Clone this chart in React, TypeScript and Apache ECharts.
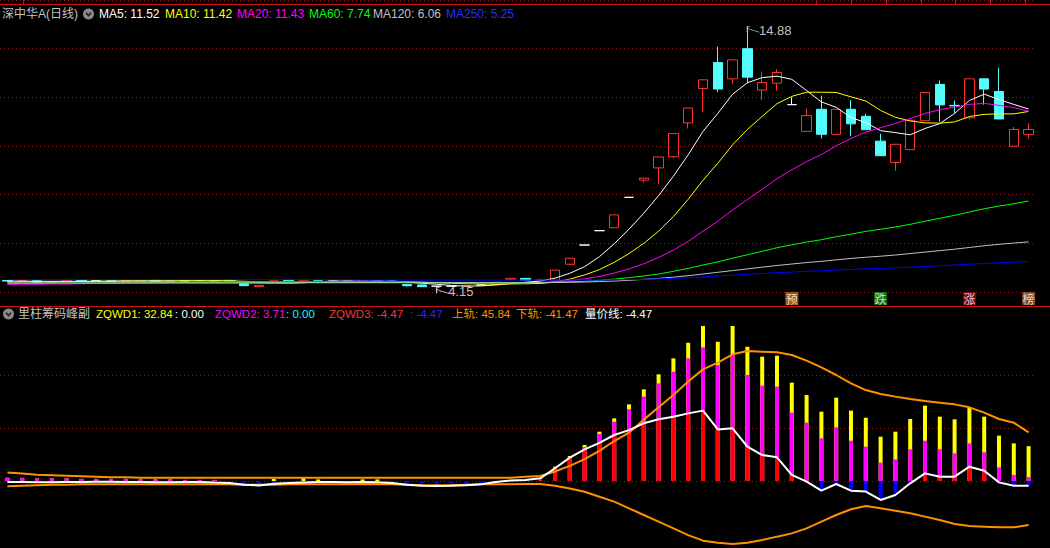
import React, { useEffect, useRef } from "react";
import * as echarts from "echarts";

// ---------- main panel (price) ----------
const opens = [4.47,4.45,4.46,4.40,4.42,4.49,4.47,4.46,4.44,4.46, 4.49,4.45,4.46,4.47,4.47,4.49,4.34,4.22,4.41,4.49, 4.41,4.46,4.45,4.45,4.44,4.46,4.46,4.31,4.29,4.24, 4.24,4.24,4.29,4.30,4.52,4.56,4.47,4.49,5.14,5.93, 6.52,6.64,7.89,8.60,9.10,9.56,10.95,12.36,13.43,12.76, 14.00,12.30,12.58,11.70,10.60,11.51,10.48,11.51,11.22,10.20, 9.32,9.85,11.04,12.53,11.67,11.16,12.76,12.24,9.99,10.48];
const closes = [4.45,4.46,4.40,4.42,4.46,4.45,4.47,4.44,4.46,4.48, 4.45,4.46,4.46,4.47,4.45,4.44,4.26,4.27,4.46,4.44, 4.46,4.45,4.45,4.44,4.46,4.45,4.41,4.26,4.22,4.24, 4.24,4.26,4.29,4.40,4.56,4.49,4.50,4.90,5.39,5.93, 6.52,7.17,7.89,8.68,9.55,10.51,11.56,12.72,12.34,13.54, 12.83,12.61,13.02,11.70,11.25,10.48,11.51,10.91,10.67,9.60, 10.07,11.06,12.20,11.69,11.65,12.76,12.34,11.11,10.68,10.68];
const lows = [4.43,4.44,4.40,4.39,4.41,4.44,4.44,4.43,4.43,4.45, 4.44,4.44,4.44,4.45,4.44,4.43,4.25,4.21,4.40,4.43, 4.40,4.44,4.44,4.43,4.43,4.44,4.40,4.22,4.21,4.15, 4.24,4.23,4.29,4.29,4.51,4.48,4.45,4.48,5.13,5.93, 6.52,6.64,7.89,8.50,8.45,9.50,10.72,11.40,12.22,12.54, 12.58,11.89,12.27,11.70,10.60,10.31,10.48,10.40,10.67,9.60, 8.98,9.82,11.04,11.00,11.36,11.09,11.70,11.11,9.99,10.31];
const highs = [4.48,4.48,4.50,4.44,4.50,4.50,4.50,4.47,4.47,4.50, 4.50,4.47,4.49,4.50,4.48,4.50,4.35,4.28,4.47,4.50, 4.48,4.47,4.46,4.46,4.47,4.47,4.47,4.32,4.30,4.25, 4.24,4.27,4.29,4.41,4.57,4.57,4.55,4.90,5.39,5.93, 6.52,7.17,7.89,8.68,9.55,10.51,11.56,12.72,14.08,13.54, 14.88,13.06,13.16,12.00,11.54,12.07,11.51,11.88,11.32,10.50, 10.07,11.06,12.20,12.69,11.87,12.76,12.76,13.22,10.78,10.94];

const ma5 = [4.45,4.45,4.44,4.44,4.44,4.44,4.44,4.45,4.46,4.46, 4.46,4.46,4.46,4.46,4.46,4.46,4.42,4.38,4.38,4.37, 4.38,4.42,4.45,4.45,4.45,4.45,4.44,4.40,4.36,4.32, 4.27,4.24,4.25,4.29,4.35,4.40,4.45,4.57,4.77,5.04, 5.45,5.98,6.58,7.24,7.96,8.76,9.64,10.60,11.34,12.13, 12.60,12.81,12.87,12.74,12.28,11.81,11.59,11.17,10.96,10.63, 10.55,10.46,10.72,10.92,11.34,11.87,12.13,11.91,11.71,11.52];
const ma10 = [4.41,4.42,4.42,4.42,4.43,4.43,4.44,4.44,4.45,4.45, 4.45,4.45,4.46,4.46,4.46,4.46,4.44,4.42,4.42,4.42, 4.42,4.42,4.42,4.41,4.41,4.41,4.43,4.43,4.40,4.38, 4.36,4.34,4.33,4.32,4.33,4.34,4.35,4.41,4.53,4.70, 4.92,5.22,5.58,6.00,6.50,7.10,7.81,8.59,9.29,10.05, 10.68,11.22,11.74,12.04,12.21,12.21,12.20,12.02,11.85,11.46, 11.18,11.03,10.95,10.94,10.99,11.21,11.30,11.32,11.32,11.42];
const ma20 = [4.31,4.32,4.32,4.33,4.33,4.34,4.35,4.36,4.37,4.37, 4.38,4.39,4.40,4.41,4.41,4.42,4.42,4.42,4.43,4.43, 4.43,4.43,4.44,4.44,4.44,4.44,4.43,4.42,4.41,4.40, 4.39,4.38,4.37,4.37,4.37,4.38,4.39,4.42,4.47,4.54, 4.64,4.78,4.95,5.16,5.42,5.72,6.08,6.50,6.91,7.37, 7.80,8.22,8.66,9.02,9.36,9.65,10.01,10.31,10.57,10.75, 10.93,11.13,11.34,11.49,11.60,11.71,11.75,11.67,11.58,11.43];
const ma60 = [4.36,4.36,4.36,4.37,4.37,4.37,4.37,4.37,4.37,4.38, 4.38,4.38,4.38,4.38,4.38,4.38,4.38,4.38,4.38,4.38, 4.39,4.39,4.39,4.39,4.39,4.39,4.39,4.39,4.39,4.39, 4.39,4.39,4.38,4.38,4.39,4.39,4.39,4.40,4.42,4.44, 4.48,4.53,4.59,4.66,4.74,4.85,4.97,5.11,5.24,5.39, 5.53,5.67,5.82,5.94,6.05,6.15,6.27,6.38,6.49,6.58, 6.67,6.78,6.91,7.03,7.15,7.29,7.42,7.53,7.63,7.74];
const ma120 = [4.37,4.37,4.37,4.37,4.37,4.37,4.37,4.37,4.37,4.37, 4.37,4.37,4.37,4.37,4.37,4.37,4.37,4.37,4.37,4.37, 4.38,4.38,4.38,4.38,4.38,4.38,4.38,4.38,4.38,4.38, 4.38,4.38,4.38,4.38,4.38,4.38,4.38,4.39,4.40,4.41, 4.43,4.45,4.48,4.52,4.56,4.61,4.67,4.74,4.81,4.88, 4.95,5.02,5.09,5.15,5.21,5.26,5.32,5.38,5.43,5.47, 5.52,5.58,5.64,5.70,5.76,5.83,5.90,5.96,6.01,6.06];
const ma250 = [4.51,4.51,4.51,4.51,4.51,4.51,4.51,4.51,4.51,4.51, 4.51,4.51,4.51,4.51,4.51,4.51,4.51,4.51,4.51,4.51, 4.51,4.51,4.51,4.51,4.49,4.49,4.49,4.49,4.49,4.49, 4.49,4.49,4.49,4.49,4.49,4.49,4.49,4.49,4.49,4.49, 4.49,4.50,4.51,4.52,4.54,4.56,4.59,4.62,4.66,4.69, 4.73,4.76,4.79,4.82,4.85,4.87,4.90,4.93,4.95,4.97, 4.99,5.02,5.05,5.08,5.11,5.14,5.17,5.20,5.23,5.25];

const highMark = { index: 50, value: 14.88 };
const lowMark = { index: 29, value: 4.15 };
const badgeIdx = [53, 59, 65, 69];
const badgeText = ["预", "跌", "涨", "榜"];

// ---------- sub panel (indicator) ----------
const zqwd1 = [3,3,2.5,2.5,2.5,2,2,2,2,1.5, 1.5,1.5,1,1,1,0,0,0,2,0, 3,1.5,0,0,1.5,1.5,0,0,0,0, 0,0,0,0,0,0,0,13.5,23.6,34, 46.5,59.1,72.3,86.5,100.6,115.7,130.5,146.2,131.4,146.2, 126.7,117.3,118.2,92.8,81.1,65.4,78.6,66.4,59.7,41.8, 46.5,58.5,71.1,60.7,58.2,69.2,60.7,42.8,35.5,32.84];
const zqwd2 = [3,3,2.5,2.5,2.5,2,2,2,2,1.5, 1.5,1.5,1,1,1,0,0,0,0,0, 0,0,0,0,0,0,0,0,0,0, 0,0,0,0,0,0,0,12.5,22.5,32, 44.3,56,67.6,79.6,92.1,103.1,115.7,126.1,109.4,118.9, 100,89.9,89,64.5,55,40.3,50.6,38,32.4,17.3, 20.4,29.9,38,29.9,26.1,35.5,27.1,12.9,5.7,3.71];
const zqwd3 = [-1.0,-1.0,-1.2,-1.2,-1.0,-1.0,-0.8,-0.8,-1.0,-1.0, -1.2,-1.2,-1.0,-1.0,-1.5,-1.8,-3.5,-4.2,-2.5,-2.0, -1.5,-1.0,-1.0,-1.2,-1.0,-1.2,-1.8,-3.5,-4.5,-4.8, -4.5,-4.0,-3.0,-1.0,0.5,1.0,2.5,12,22,29.9, 36,43.4,48,54.4,58.2,60.7,63.8,66.4,48.7,49.7, 32.4,24.5,22.3,5.7,-0.6,-9.1,-2.8,-9.1,-10,-17.9, -13.2,-2.2,7.2,4.1,4.1,13.5,9.7,-1.3,-4.4,-4.47];
const upperBand = [8,7,6,5.5,5,4.5,4,3.5,3.5,3, 3,3,3,3,3,3,3,3,3,3, 3,3,3,3,3,3,3,3,3,3, 3,3,3,3,3,4,4.7,9,14.3,20.6, 28.5,37.7,45.6,57.9,69.5,81.1,93.9,105.3,111.6,119.5, 122.6,122,121.4,118.9,113.5,107.2,100,92.1,85.8,82.1, 79.6,77.4,75.5,73.9,72.3,69.5,64.5,58.5,55,45.84];
const lowerBand = [-5,-4.5,-4,-3.5,-3.5,-3,-3,-3,-3,-3, -3,-3,-3,-3,-3,-3,-3.5,-3.5,-3.5,-3, -3,-3,-3,-3,-3,-3,-3,-3.5,-4,-4, -4,-3.5,-3,-3,-3,-2.8,-2.8,-4.4,-7,-10.1, -14.8,-19.5,-25.8,-32.1,-38.4,-44.7,-51,-56.3,-58.2,-59.4, -58.2,-55.7,-52.5,-49.4,-44.7,-38.4,-32.1,-26.7,-23.6,-25.8, -28,-30.5,-33.6,-36.8,-40.6,-42.5,-43.1,-43.7,-43.7,-41.47];

const categories = opens.map((_, i) => `K${i + 1}`);

// ---------- styles ----------
const RED = "#ff3232";
const CYAN = "#54fcfc";
const GRID_RED = "#8e1616";
const FRAME_RED = "#c81414";
const ORANGE = "#ff9000";
const LAT = '"Liberation Sans", Arial, "Noto Sans CJK SC", sans-serif';
const BADGE_PRICE = 3.735;
const badgeColors = ["#c4601c", "#118a11", "#9a0606", "#a45a1e"];

function txt(text: string, x: number, y: number, fill: string, size = 12) {
  return {
    type: "text",
    x,
    y,
    silent: true,
    style: {
      text,
      fill,
      font: `${size}px ${LAT}`,
      verticalAlign: "middle",
      textVerticalAlign: "middle",
    },
  };
}

function icon(cx: number, cy: number) {
  return {
    type: "group",
    silent: true,
    children: [
      { type: "circle", shape: { cx, cy, r: 5.5 }, style: { fill: "#8a8a8a" } },
      {
        type: "polyline",
        shape: { points: [[cx - 2.6, cy - 1.2], [cx, cy + 1.6], [cx + 2.6, cy - 1.2]] },
        style: { stroke: "#1e1e1e", lineWidth: 1.6, fill: "none" },
      },
    ],
  };
}

function hline(x1: number, x2: number, y: number, color: string) {
  return { type: "line", silent: true, shape: { x1, y1: y, x2, y2: y }, style: { stroke: color, lineWidth: 1 } };
}
function vline(x: number, y1: number, y2: number, color: string) {
  return { type: "line", silent: true, shape: { x1: x, y1, x2: x, y2 }, style: { stroke: color, lineWidth: 1 } };
}

function maLine(data: number[], color: string) {
  return {
    type: "line",
    xAxisIndex: 0,
    yAxisIndex: 0,
    data,
    symbol: "none",
    clip: false,
    silent: true,
    z: 3,
    lineStyle: { color, width: 1 },
  };
}

const f2 = (v: number) => v.toFixed(2);
const last = (a: number[]) => a[a.length - 1];

function buildOption() {
  const candleData = opens.map((o, i) => [o, closes[i], lows[i], highs[i]]);
  const flagPath = "path://M0 0 L0 6 M0 0 L3 0 M0 2 L2 2 M2 3 L12 6";
  const axisCommon = {
    axisLine: { show: false },
    axisTick: { show: false },
    axisLabel: { show: false },
    splitLine: { show: true, lineStyle: { color: GRID_RED, width: 1, type: [1, 3] } },
  };
  const SUB = 11.5;
  return {
    backgroundColor: "#000",
    animation: false,
    grid: [
      { left: 0, right: 14, top: -2, height: 294 },
      { left: 0, right: 14, top: 375, height: 106 },
    ],
    xAxis: [
      { type: "category", gridIndex: 0, data: categories, boundaryGap: true, show: false },
      { type: "category", gridIndex: 1, data: categories, boundaryGap: true, show: false },
    ],
    yAxis: [
      { type: "value", gridIndex: 0, min: 4, max: 16, interval: 2, ...axisCommon },
      { type: "value", gridIndex: 1, min: 0, max: 100, interval: 50, ...axisCommon },
    ],
    series: [
      {
        type: "candlestick",
        xAxisIndex: 0,
        yAxisIndex: 0,
        data: candleData,
        barWidth: 10,
        clip: false,
        silent: true,
        z: 2,
        itemStyle: {
          color: "#000",
          color0: CYAN,
          borderColor: RED,
          borderColor0: CYAN,
          borderColorDoji: "#ffffff",
          borderWidth: 1,
        },
        markPoint: {
          silent: true,
          symbol: flagPath,
          symbolSize: [12, 6],
          symbolOffset: [6, 2],
          symbolKeepAspect: false,
          itemStyle: { color: "none", borderColor: "#c0c0c0", borderWidth: 1 },
          label: {
            show: true,
            position: "right",
            distance: 2,
            offset: [-6, 1],
            color: "#c0c0c0",
            fontSize: 13,
            fontFamily: LAT,
            formatter: (p: any) => f2(p.value),
          },
          data: [
            { coord: [highMark.index, highMark.value], value: highMark.value },
            { coord: [lowMark.index, lowMark.value], value: lowMark.value },
          ],
        },
      },
      maLine(ma5, "#ffffff"),
      maLine(ma10, "#ffff00"),
      maLine(ma20, "#ff00ff"),
      maLine(ma60, "#00ff00"),
      maLine(ma120, "#c0c0c0"),
      maLine(ma250, "#0000ff"),
      {
        type: "scatter",
        xAxisIndex: 0,
        yAxisIndex: 0,
        symbol: "rect",
        symbolSize: 13,
        clip: false,
        silent: true,
        z: 4,
        data: badgeIdx.map((d, k) => ({ value: [d, BADGE_PRICE], itemStyle: { color: badgeColors[k] } })),
        label: {
          show: true,
          position: "inside",
          color: "#ffffff",
          fontSize: 12,
          fontFamily: '"Noto Sans CJK SC", sans-serif',
          formatter: (p: any) => badgeText[p.dataIndex],
        },
      },
      {
        type: "bar",
        xAxisIndex: 1,
        yAxisIndex: 1,
        data: zqwd1,
        barWidth: 4,
        barGap: "-100%",
        clip: false,
        silent: true,
        itemStyle: { color: "#ffff00" },
      },
      {
        type: "bar",
        xAxisIndex: 1,
        yAxisIndex: 1,
        data: zqwd2,
        barWidth: 4,
        barGap: "-100%",
        clip: false,
        silent: true,
        itemStyle: { color: "#ff00ff" },
      },
      {
        type: "bar",
        xAxisIndex: 1,
        yAxisIndex: 1,
        data: zqwd3,
        barWidth: 4,
        barGap: "-100%",
        clip: false,
        silent: true,
        itemStyle: { color: (p: any) => (p.value > 0 ? "#ff0000" : "#0000ff") },
      },
      {
        type: "line",
        xAxisIndex: 1,
        yAxisIndex: 1,
        data: upperBand,
        symbol: "none",
        clip: false,
        silent: true,
        z: 4,
        lineStyle: { color: ORANGE, width: 2 },
      },
      {
        type: "line",
        xAxisIndex: 1,
        yAxisIndex: 1,
        data: lowerBand,
        symbol: "none",
        clip: false,
        silent: true,
        z: 4,
        lineStyle: { color: ORANGE, width: 2 },
      },
      {
        type: "line",
        xAxisIndex: 1,
        yAxisIndex: 1,
        data: zqwd3,
        symbol: "none",
        clip: false,
        silent: true,
        z: 5,
        lineStyle: { color: "#ffffff", width: 2 },
      },
    ],
    graphic: [
      hline(0, 1050, 4.5, FRAME_RED),
      ...[23.5, 816.5, 851.5, 886.5, 921.5, 955.5, 990.5, 1025.5].map((x) => vline(x, 0, 4, FRAME_RED)),
      hline(0, 1050, 306.5, FRAME_RED),
      txt("深中华A(日线)", 2, 14, "#c0c0c0"),
      icon(88.5, 14),
      txt(`MA5: ${f2(last(ma5))}`, 99, 14, "#ffffff"),
      txt(`MA10: ${f2(last(ma10))}`, 165, 14, "#ffff00"),
      txt(`MA20: ${f2(last(ma20))}`, 237, 14, "#ff00ff"),
      txt(`MA60: ${f2(last(ma60))}`, 309, 14, "#00ff00"),
      txt(`MA120: ${f2(last(ma120))}`, 373, 14, "#c0c0c0"),
      txt(`MA250: ${f2(last(ma250))}`, 446, 14, "#2a2aff"),
      icon(8.5, 314),
      txt("里柱筹码峰副", 18, 314, "#c0c0c0", 12),
      txt(`ZQWD1: ${f2(last(zqwd1))}`, 96, 314, "#ffff00", SUB),
      txt(": 0.00", 175, 314, "#ffffff", SUB),
      txt(`ZQWD2: ${f2(last(zqwd2))}`, 215, 314, "#ff00ff", SUB),
      txt(": 0.00", 286, 314, "#00ffff", SUB),
      txt(`ZQWD3: ${f2(last(zqwd3))}`, 329, 314, "#ff3232", SUB),
      txt(`: ${f2(last(zqwd3))}`, 410, 314, "#2a2aff", SUB),
      txt(`上轨: ${f2(last(upperBand))}`, 452, 314, ORANGE, SUB),
      txt(`下轨: ${f2(last(lowerBand))}`, 516, 314, ORANGE, SUB),
      txt(`量价线: ${f2(last(zqwd3))}`, 585, 314, "#ffffff", SUB),
    ],
  };
}

export default function App() {
  const ref = useRef<HTMLDivElement>(null);
  useEffect(() => {
    if (!ref.current) return;
    const chart = echarts.init(ref.current, null, { renderer: "svg" });
    chart.setOption(buildOption() as any);
    return () => chart.dispose();
  }, []);
  return (
    <div
      ref={ref}
      style={{ position: "absolute", left: 0, top: 0, width: 1050, height: 548, background: "#000" }}
    />
  );
}
